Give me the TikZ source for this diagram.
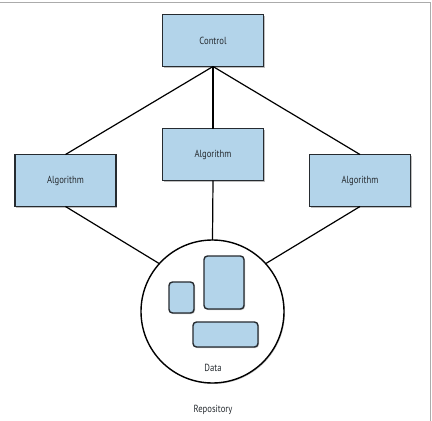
\documentclass[tikz,border=0pt]{standalone}
\usepackage{fontspec}
\setmainfont[FakeStretch=0.84]{PT Sans}
\usetikzlibrary{shadows}
\definecolor{boxfill}{HTML}{B3D4EA}
\definecolor{boxline}{HTML}{262B30}
\definecolor{framegray}{HTML}{ABABAB}
\begin{document}
\begin{tikzpicture}[x=1pt,y=-1pt,
  every node/.style={inner sep=0pt,outer sep=0pt},
  box/.style={draw=boxline,line width=1.4pt,fill=boxfill,
    minimum width=101pt,minimum height=52pt,font=\fontsize{10.3}{12}\selectfont,
    text=boxline,
    drop shadow={shadow xshift=1.2pt,shadow yshift=-1.2pt,opacity=0.25,fill=black}},
  item/.style={draw=boxline,line width=1.4pt,fill=boxfill,rounded corners=3.5pt,
    drop shadow={shadow xshift=1pt,shadow yshift=-1pt,opacity=0.25,fill=black}},
  link/.style={draw=black,line width=1.2pt},
  label/.style={font=\fontsize{10.3}{12}\selectfont,text=boxline}]
  \useasboundingbox (0,0) rectangle (432,421);
  % page frame
  \draw[framegray,line width=1.6pt] (0,2.5) -- (430.5,2.5) -- (430.5,421);

  % boxes
  \node[box] (ctrl) at (213,40.5) {Control};
  \node[box] (algm) at (213,154.5) {Algorithm};
  \node[box] (algl) at (65.5,180.5) {Algorithm};
  \node[box] (algr) at (360,180.5) {Algorithm};

  % repository
  \node[draw=black,line width=1.4pt,circle,minimum size=143pt,fill=white,
        drop shadow={shadow xshift=1pt,shadow yshift=-1pt,opacity=0.2,fill=black}]
        (repo) at (212.5,311.5) {};
  \coordinate (repoL) at (repo.138);
  \coordinate (repoR) at (repo.42);

  % connectors
  \draw[link] (ctrl.south) -- (algl.north);
  \draw[link] (ctrl.south) -- (algr.north);
  \draw[link] (ctrl.south) -- (algm.north);
  \draw[link] (algm.south) -- (repo.north);
  \draw[link] (algl.south) -- (repoL);
  \draw[link] (algr.south) -- (repoR);

  % data items
  \path[item] (169,282) rectangle (194,313);
  \path[item] (204,256) rectangle (244,309);
  \path[item] (193,322) rectangle (258,347);
  \node[label] (data) at (213,368) {Data};
  \node[label] (repotext) at (213,410) {Repository};
\end{tikzpicture}
\end{document}
